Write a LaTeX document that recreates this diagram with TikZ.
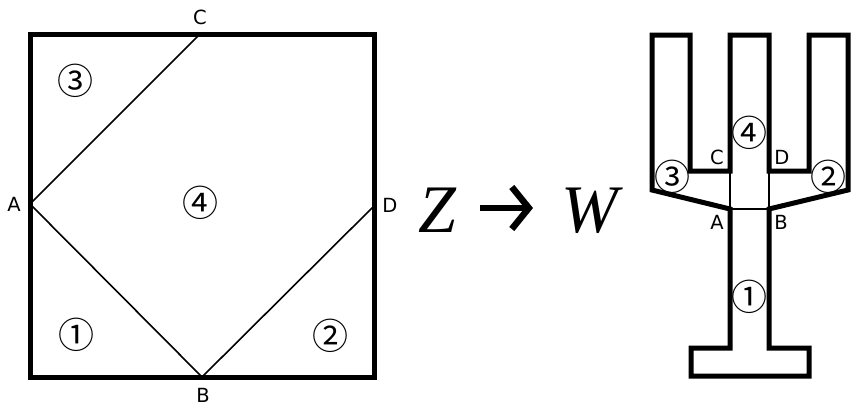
\documentclass[tikz,border=0pt]{standalone}
\usepackage{fontspec}
\usetikzlibrary{arrows.meta}
\newfontfamily\labelfont{DejaVu Sans}
\newfontfamily\numfont{Noto Sans CJK JP}
\newfontfamily\zwfont{Liberation Serif}

\tikzset{
  outline/.style={line width=5pt, line join=miter},
  cut/.style={line width=1.6pt},
  lbl/.style={font=\labelfont\fontsize{19.5}{19.5}\selectfont, inner sep=0pt},
  num/.style={font=\numfont\fontsize{36}{36}\selectfont, inner sep=0pt},
  big/.style={font=\zwfont\itshape\fontsize{68}{68}\selectfont, inner sep=0pt, anchor=base}
}

\begin{document}
\begin{tikzpicture}[x=1pt, y=-1pt]
\useasboundingbox (0, 0) rectangle (868, 413);

% Square and its cut points.
\coordinate (A) at (30, 204);
\coordinate (B) at (202, 377);
\coordinate (C) at (200, 34);
\coordinate (D) at (374, 206);
\draw[outline] (30, 34) rectangle (374, 377);
\draw[cut] (C) -- (A) -- (B) -- (D);

\node[lbl] (la) at (14, 204) {A};
\node[lbl] (lb) at (203, 395) {B};
\node[lbl] (lc) at (200, 17) {C};
\node[lbl] (ld) at (390, 205) {D};

\node[num] (n1) at (76, 335) {①};
\node[num] (n2) at (330, 336) {②};
\node[num] (n3) at (75, 81) {③};
\node[num] (n4) at (200, 203) {④};

% Z -> W
\node[big] (z) at (437, 232) {Z};
\node[big] (w) at (590, 232) {W};
\coordinate (zw1) at (480, 208);
\coordinate (zw2) at (533, 208);
\draw[line width=6.5pt, -{Straight Barb[length=17pt, width=42pt]}] (zw1) -- (zw2);

% Cut-out shape.
\coordinate (A2) at (730, 209);
\coordinate (B2) at (769, 209);
\coordinate (C2) at (730, 171);
\coordinate (D2) at (769, 171);
\draw[outline] (652, 35) -- (690, 35) -- (690, 171) -- (C2) -- (730, 35)
  -- (769, 35) -- (D2) -- (809, 171) -- (809, 35) -- (848, 35)
  -- (848, 190) -- (B2) -- (769, 348) -- (809, 348) -- (809, 376)
  -- (691, 376) -- (691, 348) -- (730, 348) -- (A2) -- (652, 190) -- cycle;
\draw[cut] (C2) -- (A2) -- (B2) -- (D2);

\node[lbl] (la2) at (717, 222) {A};
\node[lbl] (lb2) at (781, 222) {B};
\node[lbl] (lc2) at (717, 157) {C};
\node[lbl] (ld2) at (782, 157) {D};

\node[num] (m1) at (749, 297) {①};
\node[num] (m2) at (828, 177) {②};
\node[num] (m3) at (672, 177) {③};
\node[num] (m4) at (749, 133) {④};

\end{tikzpicture}
\end{document}
